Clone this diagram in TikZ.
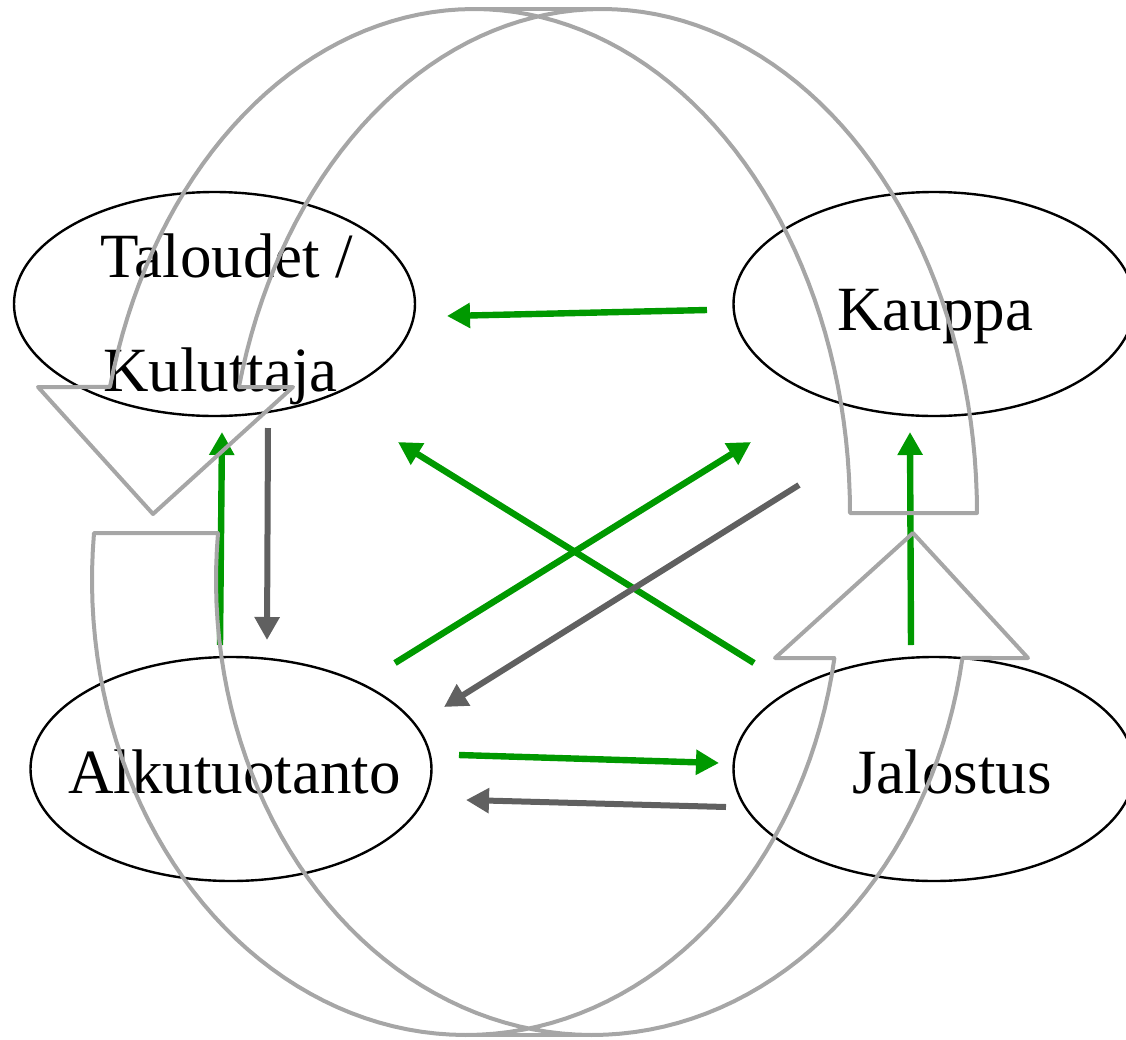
\documentclass[tikz,border=0pt]{standalone}
\usepackage{fontspec}
\setmainfont{Liberation Serif}
\usetikzlibrary{arrows.meta,shapes.geometric}
\definecolor{grn}{HTML}{009900}
\definecolor{dgray}{HTML}{606060}
\definecolor{lgray}{HTML}{A6A6A6}
\begin{document}
\begin{tikzpicture}[x=0.5pt,y=-0.5pt,
  ell/.style={ellipse, draw=black, line width=1.2pt, minimum width=200.5pt, minimum height=112pt, inner sep=0pt},
  lbl/.style={anchor=base west, inner sep=0pt, font=\fontsize{31.5pt}{36pt}\selectfont},
  garr/.style={draw=grn, line width=3.2pt, -{Triangle[length=11.5pt,width=12pt]}},
  darr/.style={draw=dgray, line width=3pt, -{Triangle[length=11.5pt,width=12pt]}},
  band/.style={draw=lgray, line width=2pt, line join=round},
]
\useasboundingbox (0,0) rectangle (1126,1040);

% ellipses
\node[ell] (tal) at (214.5,304) {};
\node[ell] (kau) at (934,304) {};
\node[ell] (alk) at (231,769) {};
\node[ell] (jal) at (934,769) {};

% labels
\node[lbl] (talA) at (100,277) {Taloudet /};
\node[lbl] (talB) at (103,391) {Kuluttaja};
\node[lbl] (kauT) at (837,330) {Kauppa};
\node[lbl] (alkT) at (68,793) {Alkutuotanto};
\node[lbl] (jalT) at (852,793) {Jalostus};

% connector end points
\coordinate (g1s) at (707,310); \coordinate (g1e) at (447,316);
\coordinate (g2s) at (754,663); \coordinate (g2e) at (398,442);
\coordinate (g3s) at (395,663); \coordinate (g3e) at (751,442);
\coordinate (g4s) at (220,645); \coordinate (g4e) at (222,432);
\coordinate (g5s) at (911,645); \coordinate (g5e) at (910,432);
\coordinate (g6s) at (459,755); \coordinate (g6e) at (719,763);
\coordinate (d1s) at (268,428); \coordinate (d1e) at (267,640);
\coordinate (d2s) at (799,485); \coordinate (d2e) at (444,707);
\coordinate (d3s) at (726,807); \coordinate (d3e) at (466,800);

% green arrows
\draw[garr] (g1s) -- (g1e);
\draw[garr] (g2s) -- (g2e);
\draw[garr] (g3s) -- (g3e);
\draw[garr] (g4s) -- (g4e);
\draw[garr] (g5s) -- (g5e);
\draw[garr] (g6s) -- (g6e);

% dark gray arrows
\draw[darr] (d1s) -- (d1e);
\draw[darr] (d2s) -- (d2e);
\draw[darr] (d3s) -- (d3e);

% upper curved arrow (tail right, head left pointing down)
\draw[band] (38,387) -- (153,514) -- (293,387) -- (239,387)
  -- plot[domain=194.48:360, samples=80, variable=\t] ({602+375*cos(\t)},{513+504*sin(\t)})
  -- (850,513)
  -- plot[domain=360:194.48, samples=80, variable=\t] ({474+376*cos(\t)},{513+504*sin(\t)})
  -- cycle;
\draw[band] (474,9) -- (602,9);

% lower curved arrow (tail left, head right pointing up)
\draw[band] (218,533)
  -- plot[domain=185.93:9.87, samples=80, variable=\t] ({592+376*cos(\t)},{580+455*sin(\t)})
  -- (1028,658) -- (913,533) -- (775,658) -- (834.5,658)
  -- plot[domain=9.87:185.93, samples=80, variable=\t] ({466+374*cos(\t)},{580+455*sin(\t)})
  -- cycle;
\draw[band] (466,1035) -- (592,1035);
\end{tikzpicture}
\end{document}
